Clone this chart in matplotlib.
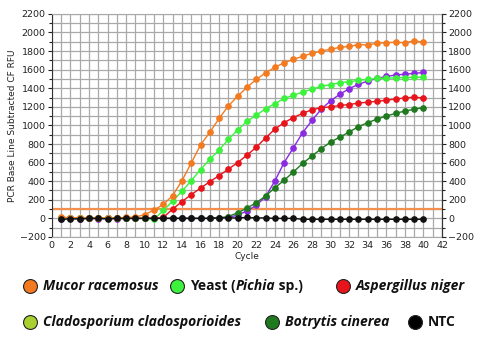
import matplotlib.pyplot as plt
from matplotlib.ticker import MultipleLocator
from matplotlib.lines import Line2D

# qPCR amplification curves, cycles 1..40
cycles = list(range(1, 41))

mucor = [15, 5, 5, 5, 5, 5, 5, 10, 15, 40, 90, 150, 245, 405, 595, 790, 925, 1075, 1210, 1315,
         1410, 1495, 1565, 1625, 1675, 1710, 1745, 1775, 1800, 1820, 1840, 1850, 1870, 1865, 1885,
         1890, 1895, 1890, 1910, 1895]
yeast = [0, 0, 0, 0, 0, 0, 0, 0, 0, 0, -10, 85, 185, 290, 405, 525, 635, 735, 850, 950,
         1045, 1110, 1180, 1235, 1290, 1325, 1360, 1390, 1420, 1440, 1460, 1470, 1485, 1495, 1505,
         1510, 1512, 1515, 1518, 1520]
aspergillus = [0, 0, 0, 0, 0, 0, 0, 0, 0, 0, 0, 10, 100, 180, 255, 325, 395, 460, 530, 600,
               680, 765, 865, 960, 1030, 1085, 1130, 1170, 1190, 1200, 1215, 1225, 1240, 1250, 1260,
               1270, 1285, 1295, 1305, 1295]
cladosporium = [-5, 0, -5, 0, -5, 0, -5, 0, 0, 0, 0, 0, 0, 0, 0, 0, 0, 5, 10, 35,
                80, 140, 233, 402, 600, 761, 922, 1055, 1175, 1265, 1335, 1396, 1442, 1478, 1505,
                1528, 1542, 1552, 1560, 1570]
botrytis = [0, 0, 0, 0, 0, 0, 0, 0, 0, 0, 0, 0, 0, 0, 0, 0, 0, 5, 20, 60,
            110, 169, 240, 330, 409, 500, 592, 671, 750, 821, 875, 929, 987, 1030, 1068,
            1101, 1130, 1155, 1173, 1192]
ntc = [-10, -5, -5, 0, 0, -5, 0, 0, 0, 0, 0, 0, 0, 0, 0, 0, 0, 5, 5, 5,
       10, 5, 5, 0, 0, 0, -10, -10, -10, -10, -10, -10, -10, -10, -10, -10, -10, -10, -10, -10]
threshold = 100

series = [
    (cladosporium, "#8a2be2"),
    (botrytis, "#1f7a1f"),
    (aspergillus, "#e8141c"),
    (yeast, "#3df23d"),
    (mucor, "#f47a20"),
    (ntc, "#111111"),
]

fig = plt.figure(figsize=(4.8, 3.39), dpi=100)
ax = fig.add_axes([0.108, 0.301, 0.813, 0.658])

for vals, col in series:
    ax.plot(cycles, vals, color=col, lw=1.0, marker="o", ms=3.8, mec=col, mfc=col, zorder=3)
ax.axhline(threshold, color="#f39050", lw=1.6, zorder=2)

ax.set_xlim(0, 42)
ax.set_ylim(-200, 2200)
ax.xaxis.set_major_locator(MultipleLocator(2))
ax.xaxis.set_minor_locator(MultipleLocator(1))
ax.yaxis.set_major_locator(MultipleLocator(200))
ax.yaxis.set_minor_locator(MultipleLocator(100))
ax.grid(which="both", color="#a9a9a9", lw=0.9)
ax.set_axisbelow(True)

tick_kw = dict(labelsize=6.8, colors="#222222", length=3, width=0.8, pad=1.5)
ax.tick_params(axis="both", which="major", **tick_kw)
ax.tick_params(axis="both", which="minor", length=2, width=0.8, colors="#222222")
ax.tick_params(axis="x", which="both", length=0, pad=3)
for s in ["top", "bottom"]:
    ax.spines[s].set_color("#a9a9a9")
ax.spines["left"].set_color("#333333")
ax.spines["right"].set_color("#333333")

ax2 = ax.twinx()
ax2.set_ylim(-200, 2200)
ax2.yaxis.set_major_locator(MultipleLocator(200))
ax2.yaxis.set_minor_locator(MultipleLocator(100))
ax2.tick_params(axis="y", which="major", **tick_kw)
ax2.tick_params(axis="y", which="minor", length=2, width=0.8, colors="#222222")
for s in ["top", "bottom", "left"]:
    ax2.spines[s].set_visible(False)
ax2.spines["right"].set_color("#333333")

ax.set_ylabel("PCR Base Line Subtracted CF RFU", fontsize=6.5, color="#222222", labelpad=2)
ax.set_xlabel("Cycle", fontsize=6.5, color="#222222", labelpad=1)

# custom legend below the chart
renderer = fig.canvas.get_renderer()
W, H = 480.0, 339.0


def legend_item(x, y, color, pieces):
    fig.add_artist(Line2D([x / W], [1 - y / H], marker="o", ms=10, mfc=color, mec="#222222",
                          mew=0.8, transform=fig.transFigure))
    xp = x + 13
    for txt, style in pieces:
        t = fig.text(xp / W, 1 - y / H, txt, fontsize=10, fontweight="bold", style=style,
                     family="Open Sans", va="center", ha="left", color="#111111")
        bb = t.get_window_extent(renderer)
        xp += bb.width


legend_item(30, 286, "#f47a20", [("Mucor racemosus", "italic")])
legend_item(177, 286, "#3df23d", [("Yeast (", "normal"), ("Pichia", "italic"), (" sp.)", "normal")])
legend_item(343, 286, "#e8141c", [("Aspergillus niger", "italic")])
legend_item(30, 322, "#a8d030", [("Cladosporium cladosporioides", "italic")])
legend_item(272, 322, "#1f7a1f", [("Botrytis cinerea", "italic")])
legend_item(415, 322, "#000000", [("NTC", "normal")])

fig.savefig("out.png", dpi=100)
